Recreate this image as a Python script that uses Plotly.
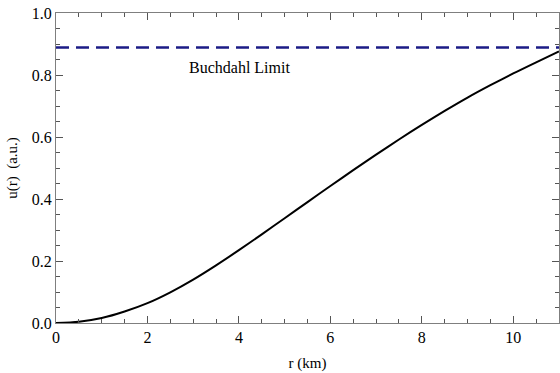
import plotly.graph_objects as go

r_km = [0, 0.5, 1, 1.5, 2, 2.5, 3, 3.5, 4, 4.5, 5, 5.5, 6, 6.5, 7, 7.5, 8, 8.5, 9, 9.5, 10, 10.5, 11]
u_r = [0, 0.004, 0.016, 0.037, 0.064, 0.099, 0.140, 0.186, 0.235, 0.286, 0.338, 0.390, 0.442,
       0.493, 0.543, 0.592, 0.639, 0.684, 0.727, 0.767, 0.805, 0.841, 0.876]
buchdahl = 8 / 9
x_range = [0, 11]
y_range = [0, 1]
x_ticks = [0, 2, 4, 6, 8, 10]
y_ticks = [0.0, 0.2, 0.4, 0.6, 0.8, 1.0]

font = "Liberation Serif"

fig = go.Figure()
fig.add_trace(go.Scatter(x=x_range, y=[buchdahl, buchdahl], mode="lines",
                         line=dict(color="#1c1c86", width=2.5, dash="13px,7px"),
                         showlegend=False, hoverinfo="skip"))
fig.add_trace(go.Scatter(x=r_km, y=u_r, mode="lines",
                         line=dict(color="black", width=2, shape="spline", smoothing=0.8),
                         showlegend=False))
fig.add_annotation(x=2.87, y=0.823, text="Buchdahl Limit", showarrow=False,
                   xanchor="left", yanchor="middle",
                   font=dict(family=font, size=16, color="black"))

axis_common = dict(showline=True, linecolor="#7f7f7f", linewidth=1.3, mirror="allticks",
                   ticks="inside", ticklen=7, tickcolor="#555555", tickwidth=1,
                   showgrid=False, zeroline=False,
                   tickfont=dict(family=font, size=16, color="black"))
fig.update_xaxes(range=x_range, tickvals=x_ticks, ticktext=[str(v) for v in x_ticks],
                 minor=dict(dtick=0.5, ticks="inside", ticklen=4, tickcolor="#555555", showgrid=False),
                 title=dict(text="r (km)", font=dict(family=font, size=15, color="black"), standoff=12),
                 **axis_common)
fig.update_yaxes(range=y_range, tickvals=y_ticks, ticktext=[f"{v:.1f}" for v in y_ticks],
                 minor=dict(dtick=0.05, ticks="inside", ticklen=4, tickcolor="#555555", showgrid=False),
                 title=dict(text="u(r)  (a.u.)", font=dict(family=font, size=15, color="black"), standoff=10),
                 **axis_common)
fig.update_layout(width=560, height=373, margin=dict(l=56, r=1, t=13, b=50),
                  font=dict(family=font, color="black"),
                  plot_bgcolor="white", paper_bgcolor="white")
fig.write_html("out.html")
